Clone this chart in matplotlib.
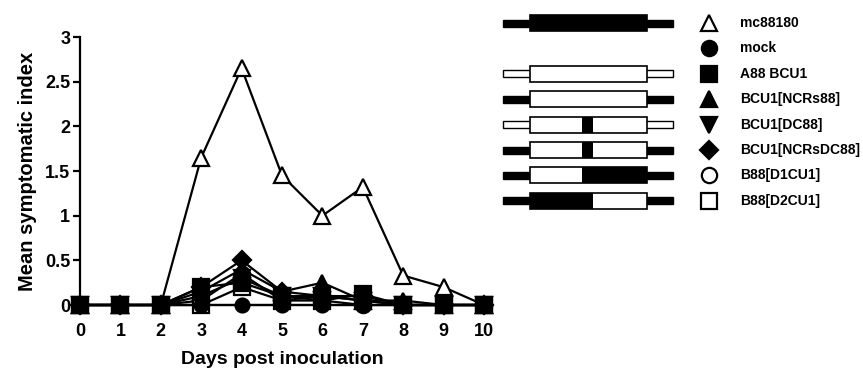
import matplotlib
matplotlib.use("Agg")
import matplotlib.pyplot as plt
from matplotlib.patches import Rectangle

plt.rcParams['font.family'] = ['Liberation Sans', 'DejaVu Sans']
plt.rcParams['font.weight'] = 'bold'

days = [0, 1, 2, 3, 4, 5, 6, 7, 8, 9, 10]

mc88180 = [0, 0, 0, 1.65, 2.65, 1.45, 1.0, 1.32, 0.33, 0.2, 0]
mock = [0, 0, 0, 0, 0, 0, 0, 0, 0, 0, 0]
a88_bcu1 = [0, 0, 0, 0.2, 0.25, 0.1, 0.05, 0.12, 0.0, 0, 0]
bcu1_ncrs88 = [0, 0, 0, 0.15, 0.4, 0.15, 0.25, 0.05, 0.05, 0, 0]
bcu1_dc88 = [0, 0, 0, 0.1, 0.3, 0.1, 0.1, 0.05, 0.0, 0, 0]
bcu1_ncrsdc88 = [0, 0, 0, 0.2, 0.5, 0.15, 0.1, 0.1, 0.0, 0, 0]
b88_d1cu1 = [0, 0, 0, 0.05, 0.35, 0.05, 0.05, 0.0, 0.0, 0, 0]
b88_d2cu1 = [0, 0, 0, 0.0, 0.2, 0.05, 0.1, 0.05, 0.0, 0, 0]

series_names = ["mc88180", "mock", "A88 BCU1", "BCU1[NCRs88]", "BCU1[DC88]",
                "BCU1[NCRsDC88]", "B88[D1CU1]", "B88[D2CU1]"]
series_values = [mc88180, mock, a88_bcu1, bcu1_ncrs88, bcu1_dc88,
                 bcu1_ncrsdc88, b88_d1cu1, b88_d2cu1]
markers = ['^', 'o', 's', '^', 'v', 'D', 'o', 's']
fills = ['white', 'black', 'black', 'black', 'black', 'black', 'white', 'white']
msizes = [12, 10, 12, 11, 11, 9, 11, 11]
zorders = [5, 6, 9, 7, 7, 8, 3, 4]

yticks = [0, 0.5, 1, 1.5, 2, 2.5, 3]
ytick_labels = ["0", "0.5", "1", "1.5", "2", "2.5", "3"]

# gene diagram legend: (thin color, list of box segments (x0, x1, color))
diagrams = [
    ('black', [(530, 647, 'black')]),
    None,
    ('white', [(530, 647, 'white')]),
    ('black', [(530, 647, 'white')]),
    ('white', [(530, 582, 'white'), (582, 593, 'black'), (593, 647, 'white')]),
    ('black', [(530, 582, 'white'), (582, 593, 'black'), (593, 647, 'white')]),
    ('black', [(530, 582, 'white'), (582, 647, 'black')]),
    ('black', [(530, 593, 'black'), (593, 647, 'white')]),
]

W, H = 863, 374
fig = plt.figure(figsize=(W / 100, H / 100), dpi=100)
ax = fig.add_axes([80 / W, (H - 305) / H, (484 - 80) / W, (305 - 37) / H])

for name, vals, m, fc, ms, z in zip(series_names, series_values, markers, fills, msizes, zorders):
    ax.plot(days, vals, color='black', lw=1.6, marker=m, markersize=ms,
            markerfacecolor=fc, markeredgecolor='black', markeredgewidth=1.6,
            clip_on=False, zorder=z)

ax.set_xlim(0, 10)
ax.set_ylim(0, 3)
ax.set_xticks(days)
ax.set_xticklabels([str(d) for d in days], fontsize=13, fontweight='bold')
ax.set_yticks(yticks)
ax.set_yticklabels(ytick_labels, fontsize=13, fontweight='bold')
for s in ['top', 'right']:
    ax.spines[s].set_visible(False)
for s in ['left', 'bottom']:
    ax.spines[s].set_linewidth(1.6)
ax.tick_params(axis='both', width=1.6, length=5, direction='out')
ax.tick_params(axis='x', pad=8)
ax.tick_params(axis='y', pad=2)
ax.set_xlabel("Days post inoculation", fontsize=14, fontweight='bold', labelpad=8)
ax.set_ylabel("Mean symptomatic index", fontsize=14.5, fontweight='bold', labelpad=6)

# legend overlay
lax = fig.add_axes([0, 0, 1, 1])
lax.set_xlim(0, W)
lax.set_ylim(H, 0)
lax.axis('off')
row_y0 = 23
row_dy = 25.4
for i, (name, m, fc, dg) in enumerate(zip(series_names, markers, fills, diagrams)):
    y = row_y0 + i * row_dy
    if dg is not None:
        thin_c, segs = dg
        lax.add_patch(Rectangle((503, y - 3.5), 673 - 503, 7, facecolor=thin_c,
                                edgecolor='black', lw=1.0, zorder=2))
        for x0, x1, c in segs:
            lax.add_patch(Rectangle((x0, y - 8), x1 - x0, 16, facecolor=c,
                                    edgecolor='none', zorder=3))
        lax.add_patch(Rectangle((530, y - 8), 647 - 530, 16, facecolor='none',
                                edgecolor='black', lw=1.2, zorder=4))
    lax.plot([709], [y], marker=m, markersize=11 if m != 'D' else 9,
             markerfacecolor=fc, markeredgecolor='black', markeredgewidth=1.6,
             linestyle='none')
    lax.text(740, y, name, fontsize=10, fontweight='bold', va='center', ha='left')

fig.savefig("out.png", dpi=100)
